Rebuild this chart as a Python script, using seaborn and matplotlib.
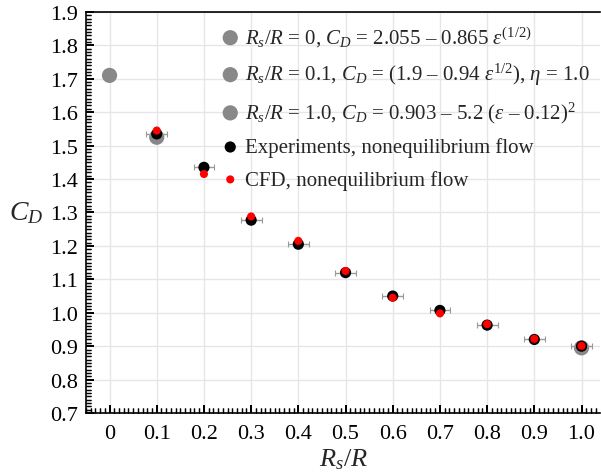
import matplotlib
matplotlib.use("Agg")
import matplotlib.pyplot as plt
import seaborn as sns
import numpy as np

sns.set_theme(style="ticks", rc={
    'xtick.direction': 'in', 'ytick.direction': 'in',
    'xtick.major.size': 6, 'ytick.major.size': 6,
    'xtick.minor.size': 3.5, 'ytick.minor.size': 3.5,
    'xtick.major.width': 1.3, 'ytick.major.width': 1.3,
    'xtick.minor.width': 0.9, 'ytick.minor.width': 0.9,
    'xtick.color': 'black', 'ytick.color': 'black',
})
plt.rcParams['font.family'] = ['Liberation Serif', 'DejaVu Serif']
plt.rcParams['mathtext.fontset'] = 'custom'
plt.rcParams['mathtext.rm'] = 'Liberation Serif'
plt.rcParams['mathtext.it'] = 'Liberation Serif:italic'
plt.rcParams['mathtext.bf'] = 'Liberation Serif:bold'

# Data
eq_labels = [r'$R_s/R$ = 0, $C_D$ = 2.055 – 0.865 $\varepsilon^{(1/2)}$',
             r'$R_s/R$ = 0.1, $C_D$ = (1.9 – 0.94 $\varepsilon^{1/2}$), $\eta$ = 1.0',
             r'$R_s/R$ = 1.0, $C_D$ = 0.903 – 5.2 ($\varepsilon$ – 0.12)$^2$']
eq_x = [0.0, 0.1, 1.0]
eq_y = [1.71, 1.525, 0.895]

ratio = [0.1, 0.2, 0.3, 0.4, 0.5, 0.6, 0.7, 0.8, 0.9, 1.0]
exp_cd = [1.535, 1.435, 1.277, 1.205, 1.120, 1.050, 1.007, 0.963, 0.920, 0.900]
cfd_cd = [1.545, 1.415, 1.288, 1.215, 1.125, 1.045, 0.998, 0.966, 0.922, 0.901]
exp_xerr = [0.022] * 10

x_ticks = [0.0, 0.1, 0.2, 0.3, 0.4, 0.5, 0.6, 0.7, 0.8, 0.9, 1.0]
x_ticklabels = ['0', '0.1', '0.2', '0.3', '0.4', '0.5', '0.6', '0.7', '0.8', '0.9', '1.0']
y_ticks = [0.7, 0.8, 0.9, 1.0, 1.1, 1.2, 1.3, 1.4, 1.5, 1.6, 1.7, 1.8, 1.9]
y_ticklabels = ['0.7', '0.8', '0.9', '1.0', '1.1', '1.2', '1.3', '1.4', '1.5', '1.6', '1.7', '1.8', '1.9']
x_minor = np.round(np.arange(-0.05, 1.04, 0.01), 2)
y_minor = np.round(np.arange(0.7, 1.9, 0.01), 2)
xlim = (-0.05, 1.04)
ylim = (0.7, 1.9)

fig = plt.figure(figsize=(6.01, 4.77), dpi=100)
rect = [0.143, 0.132, 0.856, 0.841]
ax = fig.add_axes(rect)

for xv, yv, lab in zip(eq_x, eq_y, eq_labels):
    sns.scatterplot(x=[xv], y=[yv], ax=ax, color='#888888', s=120, edgecolor='none',
                    label=lab, zorder=3)

ax.errorbar(ratio, exp_cd, xerr=exp_xerr, fmt='none', ecolor='#9a9a9a', elinewidth=1.0,
            capsize=2, capthick=0.8, zorder=3.5)
sns.scatterplot(x=ratio, y=exp_cd, ax=ax, color='black', s=65, edgecolor='none',
                label='Experiments, nonequilibrium flow', zorder=4)
sns.scatterplot(x=ratio, y=cfd_cd, ax=ax, color='#ff0000', s=34, edgecolor='none',
                label='CFD, nonequilibrium flow', zorder=5)

ax.set_xlim(*xlim)
ax.set_ylim(*ylim)
ax.set_xticks(x_ticks)
ax.set_yticks(y_ticks)
ax.set_xticks(x_minor, minor=True)
ax.set_yticks(y_minor, minor=True)
ax.set_xticklabels(x_ticklabels)
ax.set_yticklabels(y_ticklabels)

ax.tick_params(axis='both', which='major', direction='in', length=6, width=1.3, labelsize=16,
               color='black', labelcolor='black', bottom=True, left=True)
ax.tick_params(axis='both', which='minor', direction='in', length=3.5, width=0.9,
               color='black', bottom=True, left=True)
ax.tick_params(axis='x', pad=8)
ax.tick_params(axis='y', pad=6)
ax.grid(True, which='major', color='#e6e6e6', linewidth=1.0)
for side in ['left', 'bottom', 'top']:
    ax.spines[side].set_color('black')
    ax.spines[side].set_linewidth(1.2)
ax.spines['right'].set_visible(False)

ax.set_xlabel(r'$R_s/R$', fontsize=19, labelpad=2)
ax.set_ylabel(r'$C_D$', fontsize=20, rotation=0)
ax.yaxis.set_label_coords(-0.117, 0.5)
ax.yaxis.label.set_va('center')

leg = ax.legend(loc='upper left', bbox_to_anchor=(0.24, 0.99), frameon=False, fontsize=15,
                handletextpad=0.1, labelspacing=0.6, borderaxespad=0, handlelength=1.2)

# Overlay axes carrying only the inward tick comb (same scale as the main axes)
tax = fig.add_axes(rect, facecolor='none', zorder=ax.get_zorder() + 1)
tax.patch.set_visible(False)
tax.set_xlim(*xlim)
tax.set_ylim(*ylim)
tax.set_xticks(x_ticks)
tax.set_yticks(y_ticks)
tax.set_xticks(x_minor, minor=True)
tax.set_yticks(y_minor, minor=True)
tax.grid(False)
tax.tick_params(axis='both', which='major', direction='in', length=6, width=1.3,
                color='black', bottom=True, left=True, top=False, right=False,
                labelbottom=False, labelleft=False)
tax.tick_params(axis='both', which='minor', direction='in', length=3.5, width=0.9,
                color='black', bottom=True, left=True, top=False, right=False)
for side in tax.spines.values():
    side.set_visible(False)

fig.savefig('out.png', dpi=100)
